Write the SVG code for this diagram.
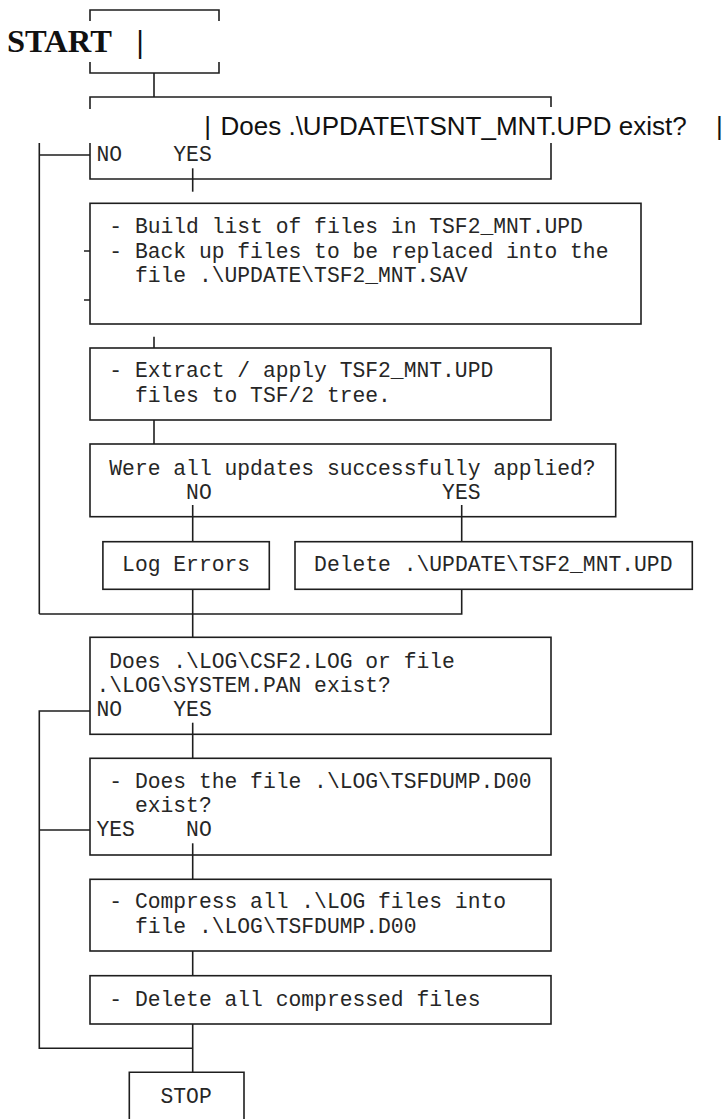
<svg xmlns="http://www.w3.org/2000/svg" width="723" height="1119" viewBox="0 0 723 1119">
  <style>
    .ln { stroke: #1e1e1e; stroke-width: 1.6; fill: none; }
    .box { stroke: #1e1e1e; stroke-width: 1.6; fill: none; }
    .mono { font-family: "Liberation Mono", "Courier New", monospace; font-size: 21.33px; fill: #262626; }
    .sans { font-family: "Liberation Sans", Arial, sans-serif; font-size: 26px; fill: #111; }
    .title { font-family: "Liberation Serif", "Times New Roman", serif; font-size: 32.5px; font-weight: bold; fill: #111; }
  </style>
  <rect width="723" height="1119" fill="#ffffff"/>

  <!-- connectors between the steps -->
  <g id="connectors" class="ln">
    <path d="M154,73 V97"/>
    <path d="M192.7,168.3 V191.7"/>
    <path d="M90,155 H39.3 M39.3,143 V614"/>
    <path d="M154,336.7 V348"/>
    <path d="M154,420 V444"/>
    <path d="M192.7,505 V541.7"/>
    <path d="M461.7,505 V541.7"/>
    <path d="M192.7,589.3 V637.3"/>
    <path d="M461.7,589.3 V614 H39.3"/>
    <path d="M192.7,722.7 V758.3"/>
    <path d="M90,711 H39.3 V1048.3 H192.7"/>
    <path d="M90,830 H39.3"/>
    <path d="M192.7,843.3 V879.3"/>
    <path d="M192.7,951 V975.7"/>
    <path d="M192.7,1024 V1072.3"/>
  </g>

  <!-- start terminal -->
  <g id="start">
    <path class="ln" d="M90,21 V10 H219 V21"/>
    <path class="ln" d="M90,62 V73 H219 V62"/>
    <text class="title" x="7" y="52">START<tspan x="136.5">|</tspan></text>
  </g>

  <!-- does the update package exist -->
  <g id="check-upd">
    <path class="ln" d="M90,109 V97 H551 V107"/>
    <path class="ln" d="M90,143 V179 H551 V143"/>
    <text class="sans" y="135"><tspan x="204.3">|</tspan><tspan x="220.5">Does .\UPDATE\TSNT_MNT.UPD exist?</tspan><tspan x="716">|</tspan></text>
    <text class="mono" x="96.5" y="160.7">NO</text>
    <text class="mono" x="173.3" y="160.7">YES</text>
  </g>

  <!-- back up files -->
  <g id="backup">
    <rect class="box" x="90" y="203.3" width="551" height="120.7"/>
    <path class="ln" d="M84,251 H90 M84,300 H90"/>
    <text class="mono" x="109.3" y="233.3">- Build list of files in TSF2_MNT.UPD</text>
    <text class="mono" x="109.3" y="257.5">- Back up files to be replaced into the</text>
    <text class="mono" x="134.9" y="281.7">file .\UPDATE\TSF2_MNT.SAV</text>
  </g>

  <!-- extract / apply -->
  <g id="extract">
    <rect class="box" x="90" y="348" width="461" height="72"/>
    <text class="mono" x="109.3" y="377.4">- Extract / apply TSF2_MNT.UPD</text>
    <text class="mono" x="134.9" y="401.7">files to TSF/2 tree.</text>
  </g>

  <!-- verify updates -->
  <g id="verify">
    <rect class="box" x="90" y="444" width="525.7" height="72.7"/>
    <text class="mono" x="109.3" y="475">Were all updates successfully applied?</text>
    <text class="mono" x="186.1" y="499">NO</text>
    <text class="mono" x="442.1" y="499">YES</text>
  </g>

  <g id="log-errors">
    <rect class="box" x="102.9" y="541.7" width="166.4" height="47.6"/>
    <text class="mono" x="122.1" y="571">Log Errors</text>
  </g>

  <g id="delete-upd">
    <rect class="box" x="295" y="541.7" width="397.3" height="47.6"/>
    <text class="mono" x="314.1" y="571">Delete .\UPDATE\TSF2_MNT.UPD</text>
  </g>

  <!-- log files present -->
  <g id="check-logs">
    <rect class="box" x="90" y="637.3" width="461" height="97"/>
    <text class="mono" x="109.3" y="668.3">Does .\LOG\CSF2.LOG or file</text>
    <text class="mono" x="96.5" y="692.2">.\LOG\SYSTEM.PAN exist?</text>
    <text class="mono" x="96.5" y="716">NO</text>
    <text class="mono" x="173.3" y="716">YES</text>
  </g>

  <!-- dump file present -->
  <g id="check-dump">
    <rect class="box" x="90" y="758.3" width="461" height="96.7"/>
    <text class="mono" x="109.3" y="788.3">- Does the file .\LOG\TSFDUMP.D00</text>
    <text class="mono" x="134.9" y="811.7">exist?</text>
    <text class="mono" x="96.5" y="836">YES</text>
    <text class="mono" x="186.1" y="836">NO</text>
  </g>

  <g id="compress">
    <rect class="box" x="90" y="879.3" width="461" height="71.7"/>
    <text class="mono" x="109.3" y="908.3">- Compress all .\LOG files into</text>
    <text class="mono" x="134.9" y="932.7">file .\LOG\TSFDUMP.D00</text>
  </g>

  <g id="delete-logs">
    <rect class="box" x="90" y="975.7" width="461" height="48.3"/>
    <text class="mono" x="109.3" y="1005.7">- Delete all compressed files</text>
  </g>

  <!-- stop terminal -->
  <g id="stop">
    <path class="ln" d="M129.3,1125 V1072.3 H244 V1125"/>
    <text class="mono" x="160.5" y="1102.7">STOP</text>
  </g>
</svg>
